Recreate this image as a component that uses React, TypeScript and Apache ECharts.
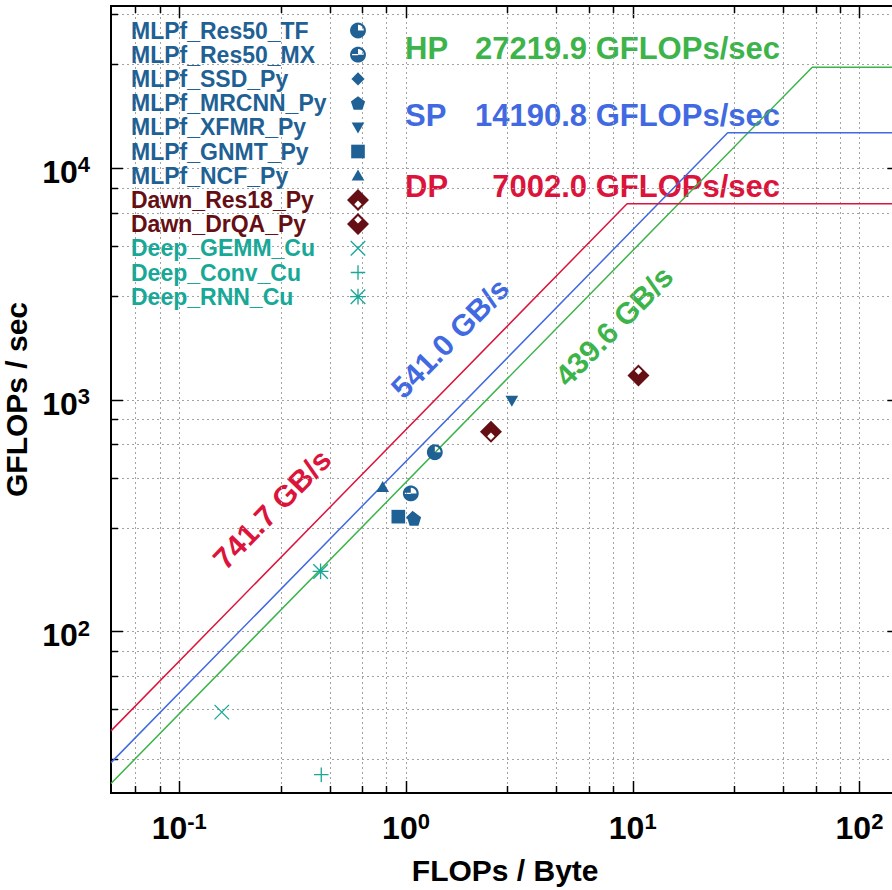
import React, { useEffect, useRef } from 'react';
import * as echarts from 'echarts';

const FONT = '"Liberation Sans", Arial, Helvetica, sans-serif';

// ---- Roofline ceilings ----
const ceilingNames = ['HP', 'SP', 'DP'];
const ceilingPeaks = [27219.9, 14190.8, 7002.0]; // GFLOPs/sec
const ceilingBandwidths = [439.6, 541.0, 741.7]; // GB/s
const ceilingColors = ['#3cb44a', '#4169e1', '#dc143c'];

// ---- Benchmarks ----
const benchNames = [
  'MLPf_Res50_TF', 'MLPf_Res50_MX', 'MLPf_SSD_Py', 'MLPf_MRCNN_Py', 'MLPf_XFMR_Py',
  'MLPf_GNMT_Py', 'MLPf_NCF_Py', 'Dawn_Res18_Py', 'Dawn_DrQA_Py',
  'Deep_GEMM_Cu', 'Deep_Conv_Cu', 'Deep_RNN_Cu',
];
const benchIntensity = [1.34, 1.05, 1.07, 1.085, 2.93, 0.925, 0.789, 2.37, 10.6, 0.154, 0.423, 0.42]; // FLOPs/Byte
const benchPerf = [592, 393, 310, 305, 990, 312, 418, 725, 1270, 44.7, 24.0, 181]; // GFLOPs/sec

// ---- Axes ----
const xRange = [0.05, 150];
const yRange = [20, 50000];
const xMajorTicks = [0.1, 1, 10, 100];
const xMinorTicks = [0.064, 0.082, 0.28, 0.46, 0.64, 0.82, 2.8, 4.6, 6.4, 8.2, 28, 46, 64, 82];
const yMajorTicks = [100, 1000, 10000];
const yMinorTicks = [28, 46, 64, 82, 280, 460, 640, 820, 2800, 4600, 6400, 8200, 28000, 46000];

const groupColors: Record<string, string> = { MLPf: '#1f6194', Dawn: '#650f14', Deep: '#17a897' };
const groupOf = (n: string) => n.split('_')[0];

// ---- symbol shapes (box -50..50 == 22px) ----
type Pt = [number, number];
const area = (p: Pt[]) => {
  let s = 0;
  for (let i = 0; i < p.length; i++) {
    const a = p[i], b = p[(i + 1) % p.length];
    s += a[0] * b[1] - b[0] * a[1];
  }
  return s / 2;
};
const ring = (p: Pt[], hole = false) => {
  const pos = area(p) > 0;
  const q = pos === !hole ? p : p.slice().reverse();
  return 'M' + q.map((v) => v[0].toFixed(2) + ' ' + v[1].toFixed(2)).join(' L') + ' Z';
};
const arcPts = (cx: number, cy: number, r: number, a0: number, a1: number, n: number): Pt[] => {
  const out: Pt[] = [];
  for (let i = 0; i <= n; i++) {
    const a = ((a0 + ((a1 - a0) * i) / n) * Math.PI) / 180;
    out.push([cx + r * Math.cos(a), cy + r * Math.sin(a)]);
  }
  return out;
};
const circle = (r: number) => arcPts(0, 0, r, 0, 360, 48).slice(0, 48);
const bar = (x1: number, y1: number, x2: number, y2: number, t: number): Pt[] => {
  const dx = x2 - x1, dy = y2 - y1, L = Math.hypot(dx, dy);
  const nx = (-dy / L) * t / 2, ny = (dx / L) * t / 2;
  return [[x1 + nx, y1 + ny], [x2 + nx, y2 + ny], [x2 - nx, y2 - ny], [x1 - nx, y1 - ny]];
};
const PAD = 'M-50 -50 M50 50 ';
const sym = (...rings: string[]) => 'path://' + PAD + rings.join(' ');
const pentagon: Pt[] = [0, 1, 2, 3, 4].map((k) => {
  const a = ((-90 + 72 * k) * Math.PI) / 180;
  return [34 * Math.cos(a), 34 * Math.sin(a) + 3] as Pt;
});
const quarterHole: Pt[] = [[0, 0], ...arcPts(0, 0, 26, -90, 0, 12)];

const benchSymbols = [
  sym(ring(circle(36)), ring(quarterHole, true)),
  sym(ring(circle(36)), ring(quarterHole, true), ring([[-27, -3], [0, -3], [0, 3], [-27, 3]], true)),
  sym(ring([[0, -30], [30, 0], [0, 30], [-30, 0]])),
  sym(ring(pentagon)),
  sym(ring([[-29, -22], [29, -22], [0, 28]])),
  sym(ring([[-31, -31], [31, -31], [31, 31], [-31, 31]])),
  sym(ring([[0, -28], [29, 22], [-29, 22]])),
  sym(ring([[0, -50], [50, 0], [0, 50], [-50, 0]]), ring([[0, 3], [17, 20], [0, 37], [-17, 20]], true)),
  sym(ring([[0, -50], [50, 0], [0, 50], [-50, 0]]), ring([[0, -37], [17, -20], [0, -3], [-17, -20]], true)),
  sym(ring(bar(-33, -33, 33, 33, 6)), ring(bar(-33, 33, 33, -33, 6))),
  sym(ring(bar(-33, 0, 33, 0, 6)), ring(bar(0, -33, 0, 33, 6))),
  sym(ring(bar(-33, -33, 33, 33, 6)), ring(bar(-33, 33, 33, -33, 6)), ring(bar(-36, 0, 36, 0, 6)), ring(bar(0, -36, 0, 36, 6))),
];

// label layout (pixels)
const peakLabelY = [48.7, 115, 186.7];
const bwLabelPos: Pt[] = [[614, 326], [450, 338], [272, 509]];

const tickSeries = (vals: number[], dir: 'x' | 'y', len: number) => ({
  type: 'custom',
  silent: true,
  z: 1,
  clip: false,
  data: vals.map((v) => (dir === 'x' ? [v, 1000] : [1, v])),
  renderItem: (params: any, api: any) => {
    const cs = params.coordSys;
    const p = api.coord([api.value(0), api.value(1)]);
    const grid = { stroke: '#a3a3a3', lineWidth: 1, lineDash: [2, 3], fill: null };
    const tick = { stroke: '#000', lineWidth: 1.5, fill: null };
    if (dir === 'x') {
      const x = Math.round(p[0]) + 0.5;
      const b = cs.y + cs.height, t = cs.y;
      return {
        type: 'group',
        children: [
          { type: 'line', shape: { x1: x, y1: t + 1, x2: x, y2: b - 1 }, style: grid },
          { type: 'line', shape: { x1: x, y1: b, x2: x, y2: b - len }, style: tick },
          { type: 'line', shape: { x1: x, y1: t, x2: x, y2: t + len }, style: tick },
        ],
      };
    }
    const y = Math.round(p[1]) + 0.5;
    const l = cs.x, r = cs.x + cs.width;
    return {
      type: 'group',
      children: [
        { type: 'line', shape: { x1: l + 1, y1: y, x2: r - 1, y2: y }, style: grid },
        { type: 'line', shape: { x1: l, y1: y, x2: l + len, y2: y }, style: tick },
        { type: 'line', shape: { x1: r, y1: y, x2: r - len, y2: y }, style: tick },
      ],
    };
  },
});

const powLabel = (v: number) => {
  const l = Math.log10(v);
  const r = Math.round(l);
  if (Math.abs(l - r) > 1e-6) return '';
  return `{b|10}{e|${r}}`;
};
const labelRich = {
  b: { fontSize: 32, fontWeight: 'bold', fontFamily: FONT, color: '#000', lineHeight: 36 },
  e: { fontSize: 22, fontWeight: 'bold', fontFamily: FONT, color: '#000', lineHeight: 6, verticalAlign: 'top' },
};

export default function App() {
  const ref = useRef<HTMLDivElement>(null);
  useEffect(() => {
    if (!ref.current) return;
    const chart = echarts.init(ref.current, undefined, { renderer: 'svg' });
    const option: any = {
      animation: false,
      backgroundColor: '#fff',
      grid: {
        left: 111, top: 6, width: 788.4, height: 787,
        outerBoundsMode: 'none', containLabel: false,
        show: true, borderColor: '#000', borderWidth: 2, backgroundColor: 'transparent',
      },
      xAxis: {
        type: 'log', logBase: 10, min: xRange[0], max: xRange[1],
        name: 'FLOPs / Byte', nameLocation: 'middle', nameGap: 62,
        nameTextStyle: { fontSize: 30, fontWeight: 'bold', fontFamily: FONT, color: '#000' },
        axisLine: { show: false }, axisTick: { show: false }, splitLine: { show: false }, minorTick: { show: false },
        axisLabel: { formatter: powLabel, rich: labelRich, margin: 17 },
      },
      yAxis: {
        type: 'log', logBase: 10, min: yRange[0], max: yRange[1],
        name: 'GFLOPs / sec', nameLocation: 'middle', nameGap: 65,
        nameTextStyle: { fontSize: 30, fontWeight: 'bold', fontFamily: FONT, color: '#000' },
        axisLine: { show: false }, axisTick: { show: false }, splitLine: { show: false }, minorTick: { show: false },
        axisLabel: { formatter: powLabel, rich: labelRich, margin: 21, padding: [8, 0, 0, 0] },
      },
      legend: {
        orient: 'vertical', align: 'right', left: 131, top: 19, padding: 0,
        itemWidth: 22, itemHeight: 22, itemGap: 1.2, selectedMode: false,
        itemStyle: { borderWidth: 0 },
        data: benchNames.map((n, i) => ({ name: n, icon: benchSymbols[i] })),
        formatter: (name: string) => `{${groupOf(name)}|${name}}`,
        textStyle: {
          rich: Object.fromEntries(
            Object.keys(groupColors).map((g) => [g, {
              width: 211, align: 'left', lineHeight: 22, fontSize: 23, fontWeight: 'bold', fontFamily: FONT, color: groupColors[g],
            }]),
          ),
        },
      },
      graphic: [
        ...ceilingNames.map((n, i) => ({
          type: 'text', x: 405, y: peakLabelY[i], silent: true,
          style: { text: n, fill: ceilingColors[i], fontSize: 31, fontWeight: 'bold', fontFamily: FONT,
            textAlign: 'left', textVerticalAlign: 'middle', align: 'left', verticalAlign: 'middle' },
        })),
        ...ceilingNames.map((n, i) => ({
          type: 'text', x: 780, y: peakLabelY[i], silent: true,
          style: { text: `${ceilingPeaks[i].toFixed(1)} GFLOPs/sec`, fill: ceilingColors[i], fontSize: 31, fontWeight: 'bold', fontFamily: FONT,
            textAlign: 'right', textVerticalAlign: 'middle', align: 'right', verticalAlign: 'middle' },
        })),
        ...ceilingNames.map((n, i) => ({
          type: 'text', x: bwLabelPos[i][0], y: bwLabelPos[i][1], rotation: Math.atan(231.6 / 226.7), silent: true,
          style: { text: `${ceilingBandwidths[i].toFixed(1)} GB/s`, fill: ceilingColors[i], fontSize: 30, fontWeight: 'bold', fontFamily: FONT,
            textAlign: 'center', textVerticalAlign: 'middle', align: 'center', verticalAlign: 'middle' },
        })),
      ],
      series: [
        tickSeries(xMinorTicks, 'x', 7),
        tickSeries(xMajorTicks, 'x', 12),
        tickSeries(yMinorTicks, 'y', 7),
        tickSeries(yMajorTicks, 'y', 12),
        ...ceilingNames.map((n, i) => ({
          type: 'line', name: n, silent: true, z: 3, symbol: 'none', showSymbol: false,
          data: [
            [xRange[0], ceilingBandwidths[i] * xRange[0]],
            [ceilingPeaks[i] / ceilingBandwidths[i], ceilingPeaks[i]],
            [xRange[1], ceilingPeaks[i]],
          ],
          lineStyle: { color: ceilingColors[i], width: 1.5 },
          itemStyle: { color: ceilingColors[i] },
        })),
        ...benchNames.map((n, i) => ({
          type: 'scatter', name: n, z: 5,
          data: [[benchIntensity[i], benchPerf[i]]],
          symbol: benchSymbols[i], symbolSize: 22,
          itemStyle: { color: groupColors[groupOf(n)], opacity: 1 },
        })),
      ],
    };
    chart.setOption(option);
    return () => chart.dispose();
  }, []);
  return (
    <div
      ref={ref}
      style={{ position: 'absolute', left: 0, top: 0, width: 892, height: 890, overflow: 'hidden' }}
    />
  );
}
